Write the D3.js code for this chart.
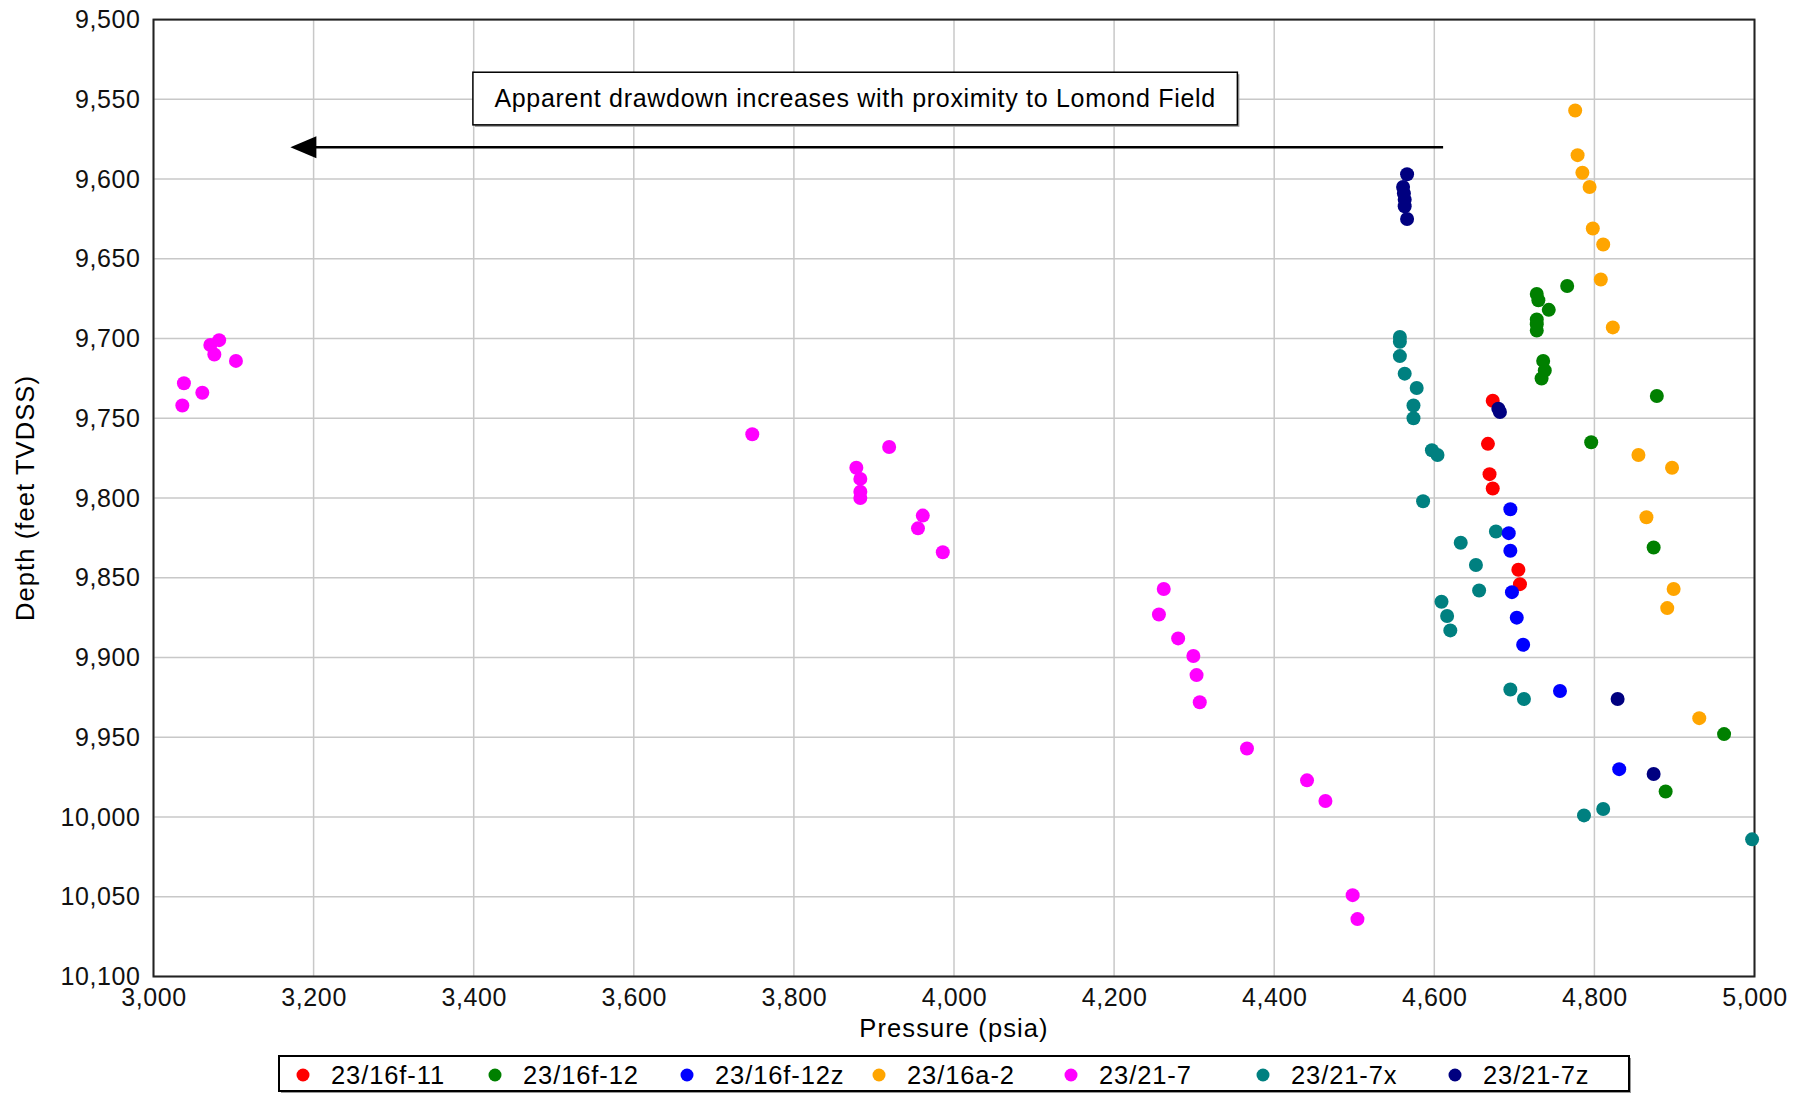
<html>
<head>
<title>Pressure vs Depth</title>
<script type="text/javascript" src="https://cdn.jsdelivr.net/npm/d3@7"></script>
<style type="text/css">
body { margin:0px; background:white; }
text { font-family: "Liberation Sans", Arial, sans-serif; }
.grid line { stroke:#c8c8c8; stroke-width:1.5px; }
</style>
</head>
<body>
<script>

  // well names + colours (legend order)
  var wells = ["23/16f-11","23/16f-12","23/16f-12z","23/16a-2","23/21-7","23/21-7x","23/21-7z"];
  var wellColors = ["#ff0000","#008000","#0000ff","#ffa500","#ff00ff","#008080","#000080"];

  var xTicks = [3000,3200,3400,3600,3800,4000,4200,4400,4600,4800,5000];
  var yTicks = [9500,9550,9600,9650,9700,9750,9800,9850,9900,9950,10000,10050,10100];

  // [pressure psia, depth ft TVDSS]
  var w16f11 = [[4673,9739],[4667,9766],[4669,9785],[4673,9794],[4705,9845],[4707,9854]];
  var w16f12 = [[4766,9667],[4728,9672],[4730,9676],[4743,9682],[4728,9688],[4728,9691],[4728,9695],
                [4736,9714],[4738,9720],[4734,9725],[4878,9736],[4796,9765],[4874,9831],[4962,9948],[4889,9984]];
  var w16f12z = [[4695,9807],[4693,9822],[4695,9833],[4697,9859],[4703,9875],[4711,9892],[4757,9921],[4831,9970]];
  var w16a2 = [[4776,9557],[4779,9585],[4785,9596],[4794,9605],[4798,9631],[4811,9641],[4808,9663],[4823,9693],
               [4855,9773],[4897,9781],[4865,9812],[4899,9857],[4891,9869],[4931,9938]];
  var w21_7 = [[3082,9701],[3071,9704],[3076,9710],[3103,9714],[3038,9728],[3061,9734],[3036,9742],
               [3748,9760],[3919,9768],[3878,9781],[3883,9788],[3883,9796],[3883,9800],[3961,9811],[3955,9819],[3986,9834],
               [4262,9857],[4256,9873],[4280,9888],[4299,9899],[4303,9911],[4307,9928],[4366,9957],[4441,9977],
               [4464,9990],[4498,10049],[4504,10064]];
  var w21_7x = [[4557,9699],[4557,9702],[4557,9711],[4563,9722],[4578,9731],[4574,9742],[4574,9750],[4597,9770],
                [4604,9773],[4586,9802],[4677,9821],[4633,9828],[4652,9842],[4656,9858],[4609,9865],[4616,9874],
                [4620,9883],[4695,9920],[4712,9926],[4787,9999],[4811,9995],[4997,10014]];
  var w21_7z = [[4566,9597],[4561,9605],[4562,9609],[4563,9613],[4563,9617],[4566,9625],[4680,9744],[4682,9746],
                [4829,9926],[4874,9973]];

  var seriesData = [w16f11,w16f12,w16f12z,w16a2,w21_7,w21_7x,w21_7z];
  var drawOrder = [4,5,0,1,2,3,6];

  // annotation, in data units
  var noteText = "Apparent drawdown increases with proximity to Lomond Field";
  var noteBox = [3399,9533,4354,9566];
  var noteArrow = [4611,3171,9580];

  var W = 1810, H = 1094;
  var x = d3.scaleLinear().domain([3000,5000]).range([153.5,1754.5]);
  var y = d3.scaleLinear().domain([9500,10100]).range([19.6,976.5]);

  var svg = d3.select("body").append("svg").attr("width",W).attr("height",H);
  svg.append("rect").attr("width",W).attr("height",H).attr("fill","white");

  var grid = svg.append("g").attr("class","grid");
  grid.selectAll(".gx").data(xTicks).enter().append("line")
    .attr("x1",function(d){ return x(d);}).attr("x2",function(d){ return x(d);})
    .attr("y1",y(9500)).attr("y2",y(10100));
  grid.selectAll(".gy").data(yTicks).enter().append("line")
    .attr("y1",function(d){ return y(d);}).attr("y2",function(d){ return y(d);})
    .attr("x1",x(3000)).attr("x2",x(5000));

  svg.append("rect").attr("x",x(3000)).attr("y",y(9500))
    .attr("width",x(5000)-x(3000)).attr("height",y(10100)-y(9500))
    .attr("fill","none").attr("stroke","#222").attr("stroke-width",2);

  var xAxis = svg.append("g").attr("transform","translate(0,"+y(10100)+")")
    .call(d3.axisBottom(x).tickValues(xTicks).tickFormat(d3.format(",")).tickSize(0).tickPadding(12));
  var yAxis = svg.append("g").attr("transform","translate("+x(3000)+",0)")
    .call(d3.axisLeft(y).tickValues(yTicks).tickFormat(d3.format(",")).tickSize(0).tickPadding(13));
  [xAxis,yAxis].forEach(function(a){
    a.select(".domain").remove();
    a.selectAll("text").attr("font-size",25).attr("fill","#111").attr("letter-spacing",0.6)
      .style("font-family","'Liberation Sans', Arial, sans-serif");
  });

  svg.append("text").text("Pressure (psia)").attr("x",(x(3000)+x(5000))/2).attr("y",1037)
    .attr("text-anchor","middle").attr("font-size",25.5).attr("letter-spacing",1.1);
  svg.append("text").text("Depth (feet TVDSS)")
    .attr("transform","translate(34,"+(y(9500)+y(10100))/2+") rotate(-90)")
    .attr("text-anchor","middle").attr("font-size",25.5).attr("letter-spacing",1.1);

  // points
  drawOrder.forEach(function(k){
    svg.append("g").selectAll("circle").data(seriesData[k]).enter().append("circle")
      .attr("cx",function(d){ return x(d[0]);}).attr("cy",function(d){ return y(d[1]);})
      .attr("r",7).attr("fill",wellColors[k]);
  });

  // annotation box + arrow
  svg.append("rect").attr("x",x(noteBox[0])+2).attr("y",y(noteBox[1])+2)
    .attr("width",x(noteBox[2])-x(noteBox[0])).attr("height",y(noteBox[3])-y(noteBox[1])).attr("fill","#999");
  svg.append("rect").attr("x",x(noteBox[0])).attr("y",y(noteBox[1]))
    .attr("width",x(noteBox[2])-x(noteBox[0])).attr("height",y(noteBox[3])-y(noteBox[1]))
    .attr("fill","white").attr("stroke","black").attr("stroke-width",1.5);
  svg.append("text").text(noteText).attr("x",(x(noteBox[0])+x(noteBox[2]))/2).attr("y",y(noteBox[3])-18)
    .attr("text-anchor","middle").attr("font-size",25).attr("letter-spacing",0.7);

  var ay = y(noteArrow[2]);
  svg.append("line").attr("x1",x(noteArrow[0])).attr("x2",x(noteArrow[1])+20).attr("y1",ay).attr("y2",ay)
    .attr("stroke","black").attr("stroke-width",2.5);
  svg.append("path").attr("d","M"+x(noteArrow[1])+","+ay+" L"+(x(noteArrow[1])+26)+","+(ay-11)+" L"+(x(noteArrow[1])+26)+","+(ay+11)+" Z")
    .attr("fill","black");

  // legend
  var lg = svg.append("g");
  lg.append("rect").attr("x",281).attr("y",1058).attr("width",1350).attr("height",35).attr("fill","#999");
  lg.append("rect").attr("x",279).attr("y",1056).attr("width",1350).attr("height",35)
    .attr("fill","white").attr("stroke","black").attr("stroke-width",2);
  var items = lg.selectAll(".item").data(wells).enter().append("g")
    .attr("transform",function(d,i){ return "translate("+(303+i*192)+",1075)";});
  items.append("circle").attr("r",6.5).attr("fill",function(d,i){ return wellColors[i];});
  items.append("text").text(function(d){ return d;}).attr("x",28).attr("y",8.5).attr("font-size",25.5).attr("letter-spacing",0.9);

</script>
</body>
</html>
